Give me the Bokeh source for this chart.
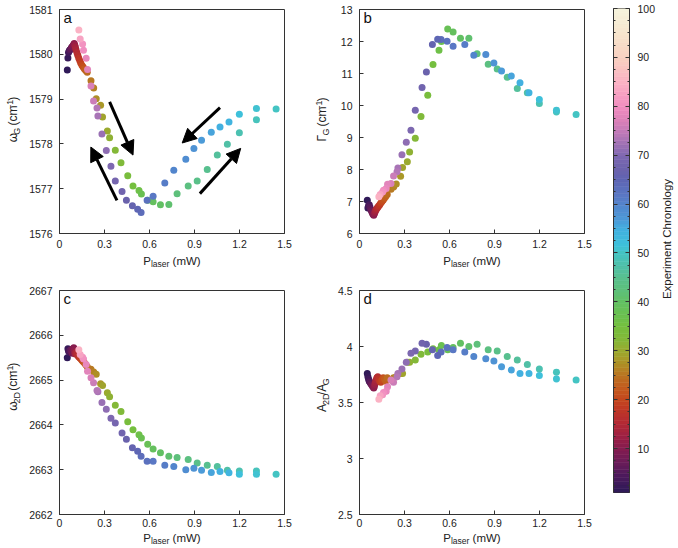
import numpy as np
from math import pi
from bokeh.plotting import figure
from bokeh.layouts import row, column
from bokeh.models import (Range1d, FixedTicker, ColumnDataSource, Label, Arrow, NormalHead,
                          LinearAxis, BasicTickFormatter)
from bokeh.core.properties import value
from bokeh.transform import linear_cmap
from bokeh.embed import file_html
from bokeh.resources import INLINE

# ---------------- data ----------------
chron_init = list(range(1, 25))
chron_up = list(range(25, 51))
chron_down = [51, 52, 54, 55, 56, 57, 58, 59, 60, 61, 62, 63, 64, 65, 66, 67, 68, 69,
              70, 71, 72, 73, 74, 76, 77, 78, 79, 80, 81, 83, 85]

p_init = [0.052, 0.056, 0.060, 0.065, 0.070, 0.075, 0.080, 0.085, 0.090, 0.095, 0.098, 0.102,
          0.106, 0.110, 0.116, 0.122, 0.128, 0.135, 0.142, 0.150, 0.158, 0.166, 0.175, 0.185]
p_up = [0.210, 0.228, 0.245, 0.274, 0.287, 0.319, 0.334, 0.372, 0.410, 0.455, 0.490, 0.530,
        0.546, 0.588, 0.624, 0.673, 0.729, 0.784, 0.858, 0.918, 0.985, 1.052, 1.119, 1.199,
        1.313, 1.444]
p_down = [1.313, 1.199, 1.130, 1.070, 1.012, 0.947, 0.896, 0.842, 0.762, 0.702, 0.624, 0.584,
          0.544, 0.521, 0.486, 0.446, 0.417, 0.372, 0.343, 0.312, 0.283, 0.256, 0.250, 0.227,
          0.210, 0.187, 0.178, 0.160, 0.154, 0.138, 0.129]

# panel a: omega_G (cm-1)
wG_init = [1579.65, 1579.92, 1580.04, 1580.08, 1580.10, 1580.12, 1580.15, 1580.17, 1580.19,
           1580.22, 1580.24, 1580.20, 1580.16, 1580.10, 1580.04, 1579.98, 1579.92, 1579.86,
           1579.80, 1579.75, 1579.71, 1579.67, 1579.64, 1579.60]
wG_up = [1579.41, 1579.25, 1579.01, 1578.86, 1578.60, 1578.29, 1578.14, 1577.86, 1577.58,
         1577.29, 1577.06, 1576.96, 1576.88, 1576.74, 1576.71, 1576.64, 1576.65, 1576.89,
         1577.06, 1577.17, 1577.43, 1577.75, 1577.99, 1578.25, 1578.54, 1578.78]
wG_down = [1578.79, 1578.66, 1578.49, 1578.38, 1578.26, 1578.08, 1577.90, 1577.66, 1577.41,
           1577.13, 1576.83, 1576.74, 1576.47, 1576.54, 1576.62, 1576.74, 1576.94, 1577.17,
           1577.50, 1577.85, 1578.22, 1578.62, 1578.80, 1578.96, 1579.29, 1579.66, 1579.91,
           1580.09, 1580.23, 1580.34, 1580.54]

# panel b: Gamma_G (cm-1)
gG_init = [7.04, 6.80, 6.86, 6.90, 6.82, 6.75, 6.70, 6.65, 6.60, 6.57, 6.62, 6.66, 6.70, 6.74,
           6.78, 6.82, 6.86, 6.90, 6.95, 7.00, 7.05, 7.10, 7.16, 7.22]
gG_up = [7.38, 7.45, 7.55, 7.79, 8.06, 8.24, 8.55, 8.98, 9.66, 10.32, 11.28, 11.73, 12.00,
         12.39, 12.30, 12.10, 12.10, 11.62, 11.29, 11.14, 10.88, 10.53, 10.40, 10.06, 9.80, 9.72]
gG_down = [9.85, 10.19, 10.40, 10.71, 10.92, 11.08, 11.33, 11.59, 11.57, 11.91, 11.85, 12.01,
           12.06, 12.07, 11.91, 11.05, 10.56, 9.85, 9.23, 8.85, 8.46, 8.05, 7.93, 7.80, 7.56,
           7.54, 7.41, 7.35, 7.30, 7.22, 7.15]

# panel c: omega_2D (cm-1)
w2D_init = [2665.50, 2665.70, 2665.65, 2665.62, 2665.66, 2665.68, 2665.64, 2665.60, 2665.70,
            2665.72, 2665.66, 2665.60, 2665.58, 2665.62, 2665.58, 2665.55, 2665.52, 2665.50,
            2665.47, 2665.44, 2665.41, 2665.38, 2665.34, 2665.30]
w2D_up = [2665.24, 2665.18, 2665.13, 2664.92, 2664.88, 2664.72, 2664.63, 2664.44, 2664.30,
          2664.07, 2663.89, 2663.78, 2663.71, 2663.57, 2663.46, 2663.38, 2663.30, 2663.27,
          2663.23, 2663.15, 2663.10, 2663.07, 2662.99, 2662.97, 2662.97, 2662.90]
w2D_down = [2662.90, 2662.90, 2662.93, 2662.96, 2662.94, 2662.99, 2663.03, 2663.00, 2663.07,
            2663.10, 2663.19, 2663.19, 2663.30, 2663.41, 2663.49, 2663.68, 2663.82, 2664.04,
            2664.15, 2664.35, 2664.50, 2664.74, 2664.77, 2664.94, 2665.05, 2665.20, 2665.35,
            2665.47, 2665.51, 2665.57, 2665.68]

# panel d: A2D/AG
r_init = [3.76, 3.73, 3.71, 3.69, 3.68, 3.67, 3.66, 3.65, 3.64, 3.63, 3.64, 3.66, 3.68, 3.70,
          3.72, 3.73, 3.71, 3.69, 3.68, 3.70, 3.72, 3.71, 3.69, 3.72]
r_up = [3.70, 3.72, 3.73, 3.76, 3.76, 3.86, 3.86, 3.88, 3.93, 3.95, 3.98, 3.97, 4.01, 3.97,
        3.99, 4.03, 4.00, 4.02, 3.97, 3.96, 3.91, 3.88, 3.84, 3.80, 3.77, 3.70]
r_down = [3.71, 3.74, 3.76, 3.76, 3.79, 3.82, 3.87, 3.89, 3.91, 3.95, 3.97, 3.99, 3.95, 3.92,
          3.97, 4.02, 4.03, 3.96, 3.94, 3.86, 3.80, 3.76, 3.73, 3.68, 3.70, 3.64, 3.60, 3.59,
          3.57, 3.56, 3.53]

x_ticks = [0, 0.3, 0.6, 0.9, 1.2, 1.5]
a_ticks = [1576, 1577, 1578, 1579, 1580, 1581]
b_ticks = [6, 7, 8, 9, 10, 11, 12, 13]
c_ticks = [2662, 2663, 2664, 2665, 2666, 2667]
d_ticks = [2.5, 3, 3.5, 4, 4.5]
cb_ticks = [10, 20, 30, 40, 50, 60, 70, 80, 90, 100]

# arrows in panel a: (x_start, y_start, x_end, y_end)
arrows_a = [(0.334, 1578.94, 0.490, 1577.75),
            (0.383, 1576.74, 0.209, 1577.93),
            (1.070, 1578.81, 0.818, 1578.02),
            (0.936, 1576.89, 1.208, 1577.90)]

# ---------------- colour map ----------------
cmap_anchors = [
    (1, "#301a58"), (4, "#4c1a5c"), (7, "#6c1c58"), (10, "#881c4e"), (12, "#9c2044"),
    (15, "#b42a34"), (18, "#c03a24"), (20, "#c44a1e"), (22, "#c45a1e"), (24, "#bc6c20"),
    (26, "#b48424"), (28, "#a89a28"), (30, "#98ac30"), (32, "#84b838"), (35, "#74c040"),
    (37, "#6ac050"), (40, "#62c064"), (42, "#5ec07a"), (45, "#58c090"), (47, "#50c0a8"),
    (50, "#44c4c4"), (52, "#3ec0dc"), (55, "#42b0e0"), (57, "#4d9ad8"), (60, "#5285cc"),
    (62, "#5a78c4"), (65, "#5e66b4"), (67, "#6a62ac"), (70, "#7c68b0"), (72, "#9870b4"),
    (75, "#c07ab8"), (77, "#d880b8"), (80, "#f08cc0"), (85, "#fbb0c4"), (90, "#f8cfc0"),
    (95, "#f7e4cc"), (100, "#f6f3dc")]


def _hex2rgb(h):
    return [int(h[i:i + 2], 16) for i in (1, 3, 5)]


_av = np.array([a[0] for a in cmap_anchors], dtype=float)
_ac = np.array([_hex2rgb(a[1]) for a in cmap_anchors], dtype=float)
_grid = np.linspace(1, 100, 256)
palette = []
for g in _grid:
    rgb = [int(round(np.interp(g, _av, _ac[:, k]))) for k in range(3)]
    palette.append("#%02x%02x%02x" % tuple(rgb))

CLO, CHI = 1, 100

FONT = "Liberation Sans"
TXT = "#222222"
EDGE = "#333333"
MID = 0.3465  # distance (em) from the alphabetic baseline up to the middle of the text box

chron = chron_init + chron_up + chron_down
power = p_init + p_up + p_down

CW = {'P': .667, 'l': .222, 'a': .556, 's': .5, 'e': .556, 'r': .333, ' ': .278, '(': .333,
      'm': .833, 'W': .944, ')': .333, 'ω': .70, 'G': .778, 'c': .5, '-': .333, '1': .556,
      'Γ': .556, '2': .556, 'D': .722, 'A': .667, '/': .278}


def text_w(t, size):
    return sum(CW.get(ch, .556) for ch in t) * size


def blank_fig(w, h):
    f = figure(width=w, height=h, x_range=Range1d(0, w), y_range=Range1d(0, h),
               min_border=0, toolbar_location=None, output_backend="svg",
               x_axis_location=None, y_axis_location=None, outline_line_color=None)
    f.grid.visible = False
    return f


def label_fig(w, h, segs, x0, y0, vertical):
    """Figure whose frame is its whole canvas (pixel ranges), holding a composite text.
    (x0, y0): baseline position of the text's centre, in the figure's pixels (y upward).
    segs: (text, font px, raise px, leading gap in em)"""
    f = blank_fig(w, h)
    total = sum(text_w(t, s) + g * s for t, s, _, g in segs)
    cum = -total / 2.0
    xs, ys, ts, fs = [], [], [], []
    for t, s, raise_, gap in segs:
        cum += gap * s
        if vertical:
            xs.append(x0 - raise_ - MID * s)
            ys.append(y0 + cum)
        else:
            xs.append(x0 + cum)
            ys.append(y0 + raise_ + MID * s)
        ts.append(t)
        fs.append("%gpx" % s)
        cum += text_w(t, s)
    src = ColumnDataSource(dict(x=xs, y=ys, t=ts, fs=fs))
    f.text("x", "y", text="t", source=src, angle=pi / 2 if vertical else 0,
           text_font=value(FONT), text_font_size="fs", text_color=TXT,
           text_align="left", text_baseline="middle")
    return f


def panel(yvals, yr, yticks, letter, w, left, top, frame_h, bottom, standoff, overrides=None):
    p = figure(width=w, height=top + frame_h + bottom, output_backend="svg",
               toolbar_location=None, x_range=Range1d(0, 1.5), y_range=Range1d(*yr),
               min_border_left=left, min_border_right=16, min_border_top=top,
               min_border_bottom=bottom)
    p.grid.visible = False
    p.outline_line_color = EDGE
    p.outline_line_width = 1
    for ax in (p.xaxis[0], p.yaxis[0]):
        ax.axis_line_color = EDGE
        ax.major_tick_line_color = EDGE
        ax.major_tick_in = 4
        ax.major_tick_out = 0
        ax.minor_tick_line_color = None
        ax.major_label_text_font = FONT
        ax.major_label_text_font_size = "10.5px"
        ax.major_label_text_color = TXT
    p.xaxis.ticker = FixedTicker(ticks=x_ticks)
    p.xaxis.major_label_overrides = {0: "0"}
    p.xaxis.major_label_standoff = standoff
    p.yaxis.ticker = FixedTicker(ticks=yticks)
    p.yaxis.formatter = BasicTickFormatter(use_scientific=False)
    p.yaxis.major_label_standoff = 7
    if overrides:
        p.yaxis.major_label_overrides = overrides
    src = ColumnDataSource(dict(x=power, y=yvals, c=chron))
    p.scatter("x", "y", source=src, size=7, line_color=None,
              fill_color=linear_cmap("c", palette, CLO, CHI))
    p.add_layout(Label(x=0, y=yr[1], x_offset=4, y_offset=-7.5, text=letter,
                       text_font=FONT, text_font_size="15px", text_color="#111111",
                       text_baseline="middle"))
    return p


XLAB = [("P", 11.5, 0, 0), ("laser", 8.5, -2.5, 0), ("(mW)", 11.5, 0, 0.278)]
YL_W = [("ω", 12, 0, 0), ("G", 9, -2.5, 0), ("(cm", 12, 0, 0.278), ("-1", 9, 4, 0), (")", 12, 0, 0)]
YL_G = [("Γ", 12, 0, 0), ("G", 9, -2.5, 0), ("(cm", 12, 0, 0.278), ("-1", 9, 4, 0), (")", 12, 0, 0)]
YL_2D = [("ω", 12, 0, 0), ("2D", 9, -2.5, 0), ("(cm", 12, 0, 0.278), ("-1", 9, 4, 0), (")", 12, 0, 0)]
YL_R = [("A", 12, 0, 0), ("2D", 9, -2.5, 0), ("/A", 12, 0, 0), ("G", 9, -2.5, 0)]

# ---- row 1 (canvas y 0..270) ----
H1, H1X = 252, 18
pa = panel(wG_init + wG_up + wG_down, (1576, 1581), a_ticks, "a", 274, 33, 9, 224, 19, 6)
for xs_, ys_, xe_, ye_ in arrows_a:
    pa.add_layout(Arrow(x_start=xs_, y_start=ys_, x_end=xe_, y_end=ye_, line_width=3,
                        line_color="black",
                        end=NormalHead(size=14, fill_color="black", line_color="black")))
ya = label_fig(26, H1, YL_W, 17, H1 - 124, True)
pb = panel(gG_init + gG_up + gG_down, (6, 13), b_ticks, "b", 268, 27, 9, 224, 19, 6)
yb = label_fig(32, H1, YL_G, 26, H1 - 124, True)
xa = label_fig(300, H1X, XLAB, 171.5, 6, False)
xb = label_fig(300, H1X, XLAB, 171.5, 6, False)

# ---- row 2 (canvas y 270..548) ----
H2, H2X = 260, 18
pc = panel(w2D_init + w2D_up + w2D_down, (2662, 2667), c_ticks, "c", 274, 33, 20, 224, 16, 4)
yc = label_fig(26, H2, YL_2D, 17, H2 - 112, True)
pd_ = panel(r_init + r_up + r_down, (2.5, 4.5), d_ticks, "d", 268, 27, 20, 224, 16, 4,
            overrides={3: "3", 4: "4"})
yd = label_fig(32, H2, YL_R, 26, H2 - 122, True)
xc = label_fig(300, H2X, XLAB, 171.5, 7, False)
xd = label_fig(300, H2X, XLAB, 171.5, 7, False)

# ---------------- colour bar ----------------
cb = figure(width=58, height=548, output_backend="svg", toolbar_location=None,
            x_range=Range1d(0, 1), y_range=Range1d(CLO, CHI),
            min_border_left=13, min_border_right=26, min_border_top=8, min_border_bottom=56,
            x_axis_location=None, y_axis_location="right")
cb.grid.visible = False
cb.outline_line_color = EDGE
nq = 128
edges = np.linspace(CLO, CHI, nq + 1)
qcols = [palette[int(round(i * (len(palette) - 1) / (nq - 1)))] for i in range(nq)]
cb.quad(left=0, right=1, bottom=edges[:-1], top=edges[1:], fill_color=qcols,
        line_color=qcols, line_width=0.6)
minor = [float(v) for v in np.arange(2.5, 100.01, 2.5) if v % 10 != 0]
ax_r = cb.yaxis[0]
ax_r.ticker = FixedTicker(ticks=cb_ticks, minor_ticks=minor)
ax_r.major_tick_in = 4
ax_r.major_tick_out = 0
ax_r.minor_tick_in = 2
ax_r.minor_tick_out = 0
ax_r.axis_line_color = EDGE
ax_r.major_tick_line_color = EDGE
ax_r.minor_tick_line_color = EDGE
ax_r.major_label_text_font = FONT
ax_r.major_label_text_font_size = "10.5px"
ax_r.major_label_text_color = TXT
ax_r.major_label_standoff = 8
ax_l = LinearAxis(ticker=FixedTicker(ticks=cb_ticks, minor_ticks=minor),
                  major_label_text_color=None, major_tick_in=4, major_tick_out=0,
                  minor_tick_in=2, minor_tick_out=0, axis_line_color=EDGE,
                  major_tick_line_color=EDGE, minor_tick_line_color=EDGE,
                  major_label_standoff=0)
cb.add_layout(ax_l, "left")

cbt = blank_fig(20, 548)
cbt.text(x=[12 - MID * 11.5], y=[548 - 261], text=["Experiment Chronology"], angle=pi / 2,
         text_font=value(FONT), text_font_size="11.5px", text_color=TXT,
         text_align="center", text_baseline="middle")

block_a = column(row(ya, pa), xa)
block_b = column(row(yb, pb), xb)
block_c = column(row(yc, pc), xc)
block_d = column(row(yd, pd_), xd)
layout = row(column(row(block_a, block_b), row(block_c, block_d)), cb, cbt)

with open("out.html", "w") as f:
    f.write(file_html(layout, INLINE))
